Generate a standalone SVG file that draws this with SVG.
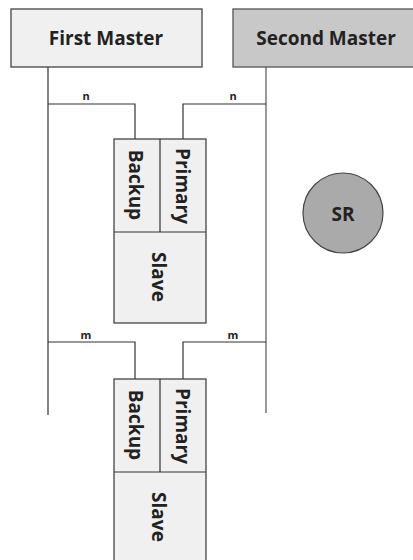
<svg xmlns="http://www.w3.org/2000/svg" width="413" height="560" viewBox="0 0 413 560">
<style>
.box{fill:#f0f0f0;stroke:#444;stroke-width:1.3}
.dark{fill:#c8c8c8;stroke:#555;stroke-width:1.3}
.ln{fill:none;stroke:#333;stroke-width:1.2}
.ln2{fill:none;stroke:#777;stroke-width:1.5}
.t{font-family:"Open Sans","Noto Sans",sans-serif;font-weight:700;fill:#222;text-anchor:middle;dominant-baseline:central}
.big{font-size:19px}
.sm{font-size:11px;font-weight:700}
</style>
<rect width="413" height="560" fill="#fff"/>
<g id="connectors">
<path class="ln" d="M48 67V415M48 104H135V139M48 342H135V379"/>
<path class="ln2" d="M266 67V413"/>
<path class="ln" d="M266 104H183V139M266 342H183V379"/>
<text class="t sm" x="86" y="95">n</text>
<text class="t sm" x="233" y="95">n</text>
<text class="t sm" x="86" y="334">m</text>
<text class="t sm" x="233" y="334">m</text>
</g>
<g id="first-master">
<rect class="box" x="11" y="9" width="191" height="58"/>
<text class="t big" x="106" y="38">First Master</text>
</g>
<g id="second-master">
<rect class="dark" x="233" y="9" width="190" height="58"/>
<text class="t big" x="326" y="38">Second Master</text>
</g>
<g id="slave1">
<rect class="box" x="114" y="139" width="92" height="184"/>
<path class="ln" d="M160 139V232M114 232H206"/>
<text class="t big" transform="translate(136 185) rotate(90)">Backup</text>
<text class="t big" transform="translate(183 186) rotate(90)">Primary</text>
<text class="t big" transform="translate(159 277) rotate(90)">Slave</text>
</g>
<g id="slave2">
<rect class="box" x="114" y="379" width="92" height="184"/>
<path class="ln" d="M160 379V472M114 472H206"/>
<text class="t big" transform="translate(136 425) rotate(90)">Backup</text>
<text class="t big" transform="translate(183 426) rotate(90)">Primary</text>
<text class="t big" transform="translate(159 517) rotate(90)">Slave</text>
</g>
<g id="sr">
<circle cx="343" cy="213" r="40" fill="#aaa" stroke="#444" stroke-width="1.2"/>
<text class="t big" x="343" y="214">SR</text>
</g>
</svg>
